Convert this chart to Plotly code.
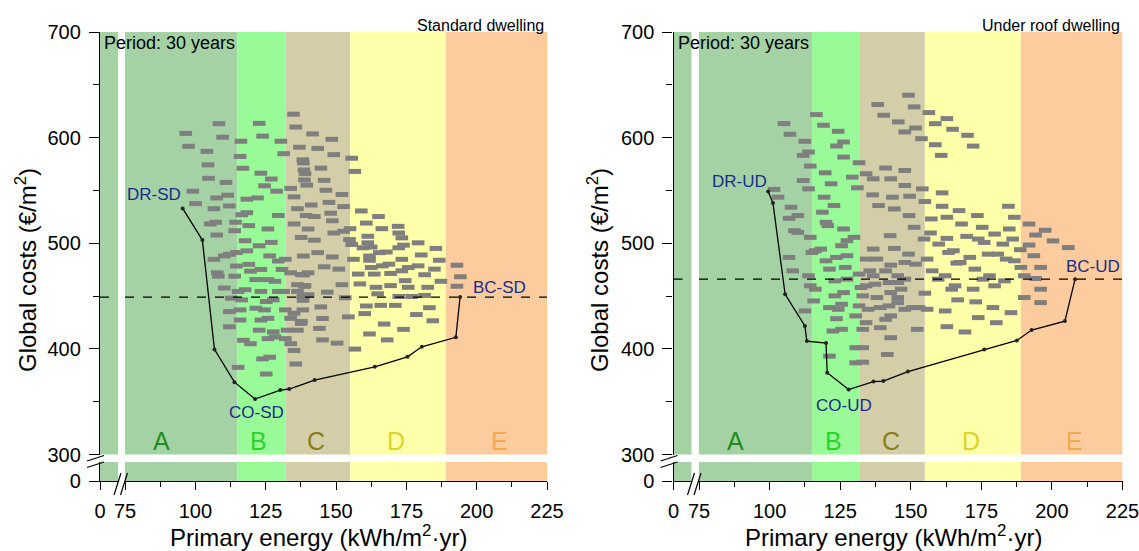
import plotly.graph_objects as go

W, H = 1139, 551
FONT = "Liberation Sans, Arial, sans-serif"

# ---------------- data ----------------
class_edges = [75, 115, 132, 155, 189, 225]
class_names = ["A", "B", "C", "D", "E"]
class_name_x = [88, 122.5, 143, 171.5, 208]
class_name_y = 313
class_fill = ["#A5D2A5", "#98FB98", "#D3CEA8", "#FFFFAA", "#FDCC9E"]
class_text = ["#1E8C1E", "#2BD42B", "#857F1C", "#D6D62C", "#F4A85A"]

x_ticks = [75, 100, 125, 150, 175, 200, 225]
x_minor = [87.5, 112.5, 137.5, 162.5, 187.5, 212.5]
y_ticks = [300, 400, 500, 600, 700]
y_minor = [350, 450, 550, 650]

# Standard dwelling: all solutions (primary energy, global cost)
sd_points = [
    (108.4, 613.2), (122.7, 613.5), (134.9, 622.2), (96.6, 604), (109.7, 600.4), (123.9, 601.4), (135.7, 610),
    (97.6, 591.8), (116.2, 596.6), (130.4, 596.6), (137.0, 590.9), (104.1, 587), (115.9, 582.2), (131.4, 584.8),
    (138.2, 579), (104.5, 574.2), (116.9, 571), (123.3, 566.3), (138.6, 569.4), (104.7, 561.5), (110.9, 557.6),
    (124.6, 554.4), (127.0, 560.8), (133.9, 551.9), (138.8, 559.9), (99.1, 549.3), (111.5, 545.5), (107.6, 542.9),
    (128.9, 549.3), (135.1, 543.9), (100.1, 537.5), (118.3, 541.7), (122.1, 542.9), (136.3, 532.7), (106.6, 532.7),
    (112.1, 535.3), (116.5, 527), (118.3, 528.9), (129.5, 526.3), (139.4, 526.3), (105.3, 518.3), (107.2, 519.9),
    (114.3, 519.9), (119.0, 516.7), (125.8, 513.5), (135.1, 518.3), (107.6, 507.8), (114.0, 511.9), (117.7, 502.4),
    (122.7, 497.6), (127.0, 500.8), (137.6, 505.5), (140.1, 513.5), (110.3, 488), (114.6, 491.2), (112.1, 489.6),
    (118.3, 492.8), (126.4, 488), (106.6, 484.8), (129.5, 483.2), (132.0, 484.8), (107.8, 472), (114.6, 478.4),
    (119.0, 480), (123.3, 475.2), (130.8, 475.2), (133.9, 472), (137.6, 470.4), (140.1, 472), (108.2, 468.8),
    (114.0, 468.8), (119.6, 473.6), (121.5, 465.6), (125.8, 465.6), (128.3, 464), (136.3, 460.8), (138.8, 459.2),
    (110.3, 457.6), (115.2, 454.4), (117.7, 456), (123.3, 454.4), (129.5, 454.4), (131.4, 454.4), (136.3, 454.4),
    (112.8, 448), (116.5, 446.4), (125.2, 444.8), (127.7, 446.4), (138.2, 449.6), (140.1, 451.2), (112.1, 435.3),
    (115.9, 436.9), (121.5, 438.5), (124.6, 436.9), (132.0, 436.9), (135.1, 433.7), (138.2, 436.9), (115.9, 427.3),
    (123.3, 427.3), (125.8, 428.9), (133.9, 428.9), (137.6, 424.1), (112.1, 420.9), (122.7, 417.7), (127.7, 416.1),
    (132.6, 417.7), (136.3, 417.7), (117.1, 408.1), (119.6, 404.9), (125.8, 409.7), (128.3, 411.3), (132.0, 409.7),
    (133.9, 404.9), (115.2, 382.5), (123.9, 390.5), (126.4, 392.1), (135.1, 398.5), (135.7, 385.7), (125.2, 376.2),
    (141.7, 603.5), (148.5, 598.4), (141.2, 536.2), (142.3, 525.3), (143.5, 589.8), (149.2, 583.9), (155.6, 580.5),
    (144.6, 571.1), (156.7, 568), (145.8, 559.6), (146.4, 550.2), (152.1, 546.2), (147.5, 538.7), (152.7, 534.7),
    (148.1, 528.4), (148.7, 521.3), (155.0, 513.8), (152.7, 511.3), (149.2, 509.7), (154.8, 503.5), (142.3, 502.9),
    (143.5, 491.1), (148.7, 487), (151.0, 475.5), (145.8, 477.7), (159.0, 530.6), (165.1, 525.3), (160.8, 519.1),
    (166.3, 513.8), (172.1, 516), (172.3, 509.7), (173.4, 505.1), (161.3, 506.6), (155.6, 498.8), (161.3, 500.4),
    (159.6, 495.7), (162.5, 496.4), (167.9, 491.7), (165.4, 491.1), (172.3, 495.7), (174.0, 498.2), (179.2, 500.4),
    (185.5, 495.1), (161.9, 487.9), (180.3, 488.9), (173.4, 484.8), (156.2, 484.8), (161.9, 483.9), (166.5, 478.6),
    (168.8, 480.2), (162.5, 477), (175.7, 477), (186.7, 483.9), (179.2, 478.6), (185.0, 475.5), (157.9, 470.8),
    (163.6, 470.8), (169.4, 471.4), (173.4, 473.9), (181.5, 470.2), (187.3, 464), (152.1, 460.8), (158.5, 461.5),
    (164.2, 458.3), (169.4, 459.9), (174.6, 464.6), (175.7, 458.3), (182.6, 458.3), (164.8, 452.1), (146.9, 453.7),
    (153.3, 448.4), (172.3, 449.6), (176.9, 449.6), (181.5, 450.6), (193.0, 479.2), (194.2, 468.3), (193.0, 459.3),
    (144.6, 439.7), (160.8, 440.6), (165.9, 441.2), (171.1, 441.2), (183.2, 439), (145.2, 428.8), (154.4, 430.3),
    (160.2, 433.4), (178.6, 432.5), (184.4, 426.6), (144.1, 419.4), (167.1, 423.5), (174.0, 418.5), (145.2, 408.5),
    (150.4, 405.4), (161.9, 414.1), (168.2, 408.5), (156.7, 399.8), (138.4, 576), (139.0, 565.8), (139.6, 555),
    (138.4, 487.9), (138.4, 470), (139.0, 460), (138.3, 446), (137.7, 426),
]
sd_front_x = [95.5, 102.5, 106.8, 113.9, 121.2, 130.2, 133.4, 142.4, 163.8, 175.4, 180.5, 192.6, 194.1]
sd_front_y = [533, 503, 399.5, 368.5, 352.5, 361, 362, 370.5, 383, 392.5, 402, 411, 449]
sd_bc_cost = 449
sd_labels = [("DR-SD", 85.4, 546), ("CO-SD", 121.8, 340), ("BC-SD", 208, 458)]

# Under roof dwelling
ud_points = [
    (105.1, 613.3), (116.6, 621.8), (119.1, 611.7), (124.3, 606), (138.3, 631.3), (140.4, 621.2), (145.6, 614.9),
    (147.9, 605.4), (107.2, 603.2), (112.5, 596.5), (113.8, 586.4), (111.9, 583.2), (123.7, 592.1), (126.2, 595.9),
    (126.2, 581.6), (131.7, 576.2), (134.2, 565.8), (141.1, 571.2), (147.9, 568.9), (114.4, 573.1), (119.7, 566.7),
    (111.9, 559.4), (113.8, 551.5), (121.8, 556.3), (129.3, 562.6), (131.1, 552.5), (136.7, 561), (142.9, 561),
    (147.9, 554.7), (101.6, 551), (103.0, 543.6), (119.3, 543.6), (122.8, 535.7), (118.7, 529.4), (136.5, 545.8),
    (138.6, 535.7), (143.5, 543.6), (144.2, 532.5), (107.6, 534.1), (106.9, 523.6), (110.0, 526.2), (108.8, 511.9),
    (110.0, 510.3), (114.4, 505.6), (120.0, 519.8), (120.6, 516.7), (126.2, 513.5), (127.4, 502.4), (129.9, 505.6),
    (142.7, 507.2), (144.2, 495.1), (136.7, 494.5), (115.0, 491.3), (118.1, 494.5), (116.2, 492.9), (125.5, 497.7),
    (106.9, 486.6), (120.0, 483.4), (123.7, 486.6), (127.4, 488.2), (134.2, 485), (138.0, 485), (142.9, 479.3),
    (147.9, 481.8), (108.2, 473.9), (113.8, 469.2), (121.2, 475.5), (126.8, 477.1), (131.7, 470.8), (135.5, 473.9),
    (136.7, 469.2), (141.1, 473.9), (145.4, 469.2), (114.4, 459.7), (116.2, 456.5), (123.1, 464.4), (127.4, 466),
    (132.4, 458.1), (134.2, 459.7), (137.3, 461.2), (142.3, 462.8), (145.4, 462.8), (147.9, 466), (115.6, 445.4),
    (123.1, 450.2), (126.2, 453.3), (133.0, 450.2), (138.0, 448.6), (142.9, 453.3), (145.4, 448.6), (146.6, 456.5),
    (121.2, 439.1), (124.3, 437.5), (125.5, 442.2), (131.7, 440.7), (134.9, 437.5), (139.2, 439.1), (142.3, 440.7),
    (145.4, 443.8), (112.5, 435.9), (123.7, 428.6), (130.5, 431.2), (134.2, 424.8), (141.1, 428), (142.9, 431.2),
    (147.9, 437.5), (122.4, 416.9), (125.5, 418.5), (133.0, 418.5), (139.2, 420.1), (142.9, 410.6), (121.2, 393.1),
    (130.5, 401.1), (133.0, 401.1), (141.7, 394.7), (130.5, 386.8), (133.0, 387.4),
    (149.2, 640.2), (151.2, 629.1), (156.4, 623.7), (158.7, 613.2), (162.8, 618), (164.8, 607.9), (151.7, 609.1),
    (153.8, 599), (158.7, 593.3), (160.8, 583.2), (170.1, 602.2), (172.1, 592), (149.6, 544.5), (154.1, 551.5),
    (155.0, 539.5), (161.1, 547.7), (161.1, 535), (167.1, 530.9), (168.0, 518.2), (162.8, 524.6), (173.6, 526.2),
    (175.3, 515.1), (184.6, 535), (186.7, 524.6), (184.9, 513.5), (191.9, 518.2), (194.2, 507.8), (149.4, 526.2),
    (151.2, 515.1), (157.3, 523), (157.0, 509.7), (154.7, 504), (162.8, 504.6), (159.9, 499.2), (169.8, 506.5),
    (173.9, 504), (176.0, 500.8), (179.7, 508.7), (182.6, 499.2), (186.1, 504), (165.1, 492.9), (163.4, 491.3),
    (170.9, 486.6), (167.5, 481.8), (166.3, 481.2), (177.4, 489.7), (180.8, 489.7), (183.8, 485), (188.8, 493.9),
    (191.9, 498.3), (186.7, 483.4), (189.0, 477.1), (193.6, 488.2), (149.2, 489.7), (151.7, 480.2), (155.8, 485),
    (157.6, 473.9), (162.2, 469.2), (159.7, 466), (172.7, 475.5), (175.6, 466), (177.9, 469.2), (183.2, 464.4),
    (190.2, 469.2), (196.0, 477.1), (165.7, 459.7), (164.5, 456.5), (172.1, 456.5), (179.7, 459.7), (190.2, 448.6),
    (194.2, 466.6), (155.0, 452.7), (150.6, 439.1), (152.9, 439.1), (155.8, 437.5), (166.6, 446.4), (173.0, 444.5),
    (179.1, 439.1), (196.0, 456.5), (196.0, 443.8), (162.2, 435.9), (173.9, 429.6), (185.5, 434.3), (180.3, 424.8),
    (152.3, 418.5), (162.8, 421), (169.2, 416), (197.6, 512.3), (200.4, 502.2), (205.8, 495.9),
]
ud_front_x = [99.5, 101.2, 105.5, 112.5, 113.2, 120.0, 120.4, 128.0, 136.8, 140.3, 149.0, 176.0, 187.6, 192.8, 204.6, 208.2]
ud_front_y = [549, 538, 451.7, 421.7, 407.4, 405.5, 377.5, 361.5, 369, 369.5, 378.5, 399.5, 408, 417.8, 426.3, 466]
ud_bc_cost = 466
ud_labels = [("DR-UD", 89.4, 558), ("CO-UD", 126.4, 346), ("BC-UD", 214.6, 478)]

panel_titles = ["Standard dwelling", "Under roof dwelling"]
period_text = "Period: 30 years"

# ---------------- geometry (pixels) ----------------
Y_TOP, Y_MAIN_BOT, Y_STUB_TOP, Y_AXIS = 32, 454.5, 462, 481
panels = [
    dict(axis=100, stub_end=118, main0=125, main1=547, ytitle_x=26,
         pts=sd_points, fx=sd_front_x, fy=sd_front_y, bc=sd_bc_cost, labels=sd_labels),
    dict(axis=673.5, stub_end=691.5, main0=699, main1=1122.5, ytitle_x=598,
         pts=ud_points, fx=ud_front_x, fy=ud_front_y, bc=ud_bc_cost, labels=ud_labels),
]


def fx(px):
    return px / W


def fy(py):
    return 1 - py / H


fig = go.Figure()
layout = {}
shapes = []
annotations = []


def akey(kind, n):
    return f"{kind}axis" if n == 1 else f"{kind}axis{n}"


def aref(kind, n):
    return kind if n == 1 else f"{kind}{n}"


hidden = dict(visible=False, showgrid=False, zeroline=False, fixedrange=True, automargin=False)
tickfont = dict(family=FONT, size=20, color="black")
line_axis = dict(showline=True, linecolor="black", linewidth=1.3, showgrid=False, zeroline=False,
                 ticks="outside", tickwidth=1.3, tickcolor="black", tickfont=tickfont,
                 ticklabelstandoff=4, ticklabeloverflow="allow", fixedrange=True,
                 automargin=False, tickmode="array")

for i, p in enumerate(panels):
    n = 4 * i + 1
    m, s, b, c = n, n + 1, n + 2, n + 3
    dom_main_x = [fx(p["main0"]), fx(p["main1"])]
    dom_stub_x = [fx(p["axis"]), fx(p["stub_end"])]
    dom_main_y = [fy(Y_MAIN_BOT), fy(Y_TOP)]
    dom_stub_y = [fy(Y_AXIS), fy(Y_STUB_TOP)]

    # main
    layout[akey("x", m)] = dict(hidden, domain=dom_main_x, range=[75, 225], anchor=aref("y", m))
    layout[akey("y", m)] = dict(hidden, domain=dom_main_y, range=[300, 700], anchor=aref("x", m))
    # left stub (carries y ticks 300-700)
    layout[akey("x", s)] = dict(hidden, domain=dom_stub_x, range=[0, 1], anchor=aref("y", s))
    layout[akey("y", s)] = dict(
        line_axis, domain=dom_main_y, range=[300, 700], anchor=aref("x", s), side="left",
        ticklen=10, tickvals=y_ticks, ticktext=[str(v) for v in y_ticks],
        minor=dict(tickmode="array", tickvals=y_minor, ticks="outside", ticklen=6,
                   tickwidth=1.3, tickcolor="black", showgrid=False),
    )
    # bottom stub (carries x ticks 75-225)
    layout[akey("x", b)] = dict(
        line_axis, domain=dom_main_x, range=[75, 225], anchor=aref("y", b), side="bottom",
        ticklen=8, tickvals=x_ticks, ticktext=[str(v) for v in x_ticks],
        minor=dict(tickmode="array", tickvals=x_minor, ticks="outside", ticklen=5,
                   tickwidth=1.3, tickcolor="black", showgrid=False),
    )
    layout[akey("y", b)] = dict(hidden, domain=dom_stub_y, range=[0, 1], anchor=aref("x", b))
    # corner (0 / 0)
    layout[akey("x", c)] = dict(
        line_axis, domain=dom_stub_x, range=[0, 1], anchor=aref("y", c), side="bottom",
        ticklen=8, tickvals=[0], ticktext=["0"],
    )
    layout[akey("y", c)] = dict(
        line_axis, domain=dom_stub_y, range=[0, 1], anchor=aref("x", c), side="left",
        ticklen=10, tickvals=[0], ticktext=["0"],
    )

    # make sure every sub-area exists as a subplot
    for ax in (s, b, c):
        fig.add_trace(go.Scatter(x=[], y=[], xaxis=aref("x", ax), yaxis=aref("y", ax),
                                 showlegend=False, hoverinfo="skip"))

    # background class bands
    for k in range(5):
        shapes.append(dict(type="rect", xref=aref("x", m), yref=f"{aref('y', m)} domain",
                           x0=class_edges[k], x1=class_edges[k + 1], y0=0, y1=1,
                           fillcolor=class_fill[k], line=dict(width=0), layer="below"))
        shapes.append(dict(type="rect", xref=aref("x", b), yref=f"{aref('y', b)} domain",
                           x0=class_edges[k], x1=class_edges[k + 1], y0=0, y1=1,
                           fillcolor=class_fill[k], line=dict(width=0), layer="below"))
        annotations.append(dict(text=class_names[k], xref=aref("x", m), yref=aref("y", m),
                                x=class_name_x[k], y=class_name_y, showarrow=False,
                                xanchor="center", yanchor="middle",
                                font=dict(family=FONT, size=25, color=class_text[k])))
    for ax in (s, c):
        shapes.append(dict(type="rect", xref=f"{aref('x', ax)} domain", yref=f"{aref('y', ax)} domain",
                           x0=0, x1=1, y0=0, y1=1, fillcolor=class_fill[0],
                           line=dict(width=0), layer="below"))

    # scatter of all solutions
    px_, py_ = zip(*p["pts"])
    fig.add_trace(go.Scatter(
        x=list(px_), y=list(py_), mode="markers", xaxis=aref("x", m), yaxis=aref("y", m),
        marker=dict(symbol="line-ew", size=9, color="#7F7F7F",
                    line=dict(color="#7F7F7F", width=5)),
        showlegend=False, hoverinfo="skip", cliponaxis=False,
    ))
    # Pareto front
    fig.add_trace(go.Scatter(
        x=p["fx"], y=p["fy"], mode="lines+markers", xaxis=aref("x", m), yaxis=aref("y", m),
        line=dict(color="black", width=1.3),
        marker=dict(symbol="circle", size=4, color="#222222"),
        showlegend=False, hoverinfo="skip",
    ))
    # dashed base-case cost line (across stub and main area)
    for ax in (m, s):
        shapes.append(dict(type="line", xref=f"{aref('x', ax)} domain", yref=aref("y", ax),
                           x0=0, x1=1, y0=p["bc"], y1=p["bc"],
                           line=dict(color="black", width=1.2, dash="dash")))

    # point labels
    for txt, lx, ly in p["labels"]:
        annotations.append(dict(text=txt, xref=aref("x", m), yref=aref("y", m), x=lx, y=ly,
                                showarrow=False, xanchor="center", yanchor="middle",
                                font=dict(family=FONT, size=17, color="#1C2A8C")))

    # texts
    annotations.append(dict(text=period_text, xref="paper", yref="paper",
                            x=fx(p["axis"] + 2), y=fy(43), xanchor="left", yanchor="middle",
                            showarrow=False, font=dict(family=FONT, size=18, color="black")))
    annotations.append(dict(text=panel_titles[i], xref="paper", yref="paper",
                            x=fx(p["main1"] - 1), y=fy(25), xanchor="right", yanchor="middle",
                            showarrow=False, font=dict(family=FONT, size=16, color="black")))
    annotations.append(dict(text="Primary energy (kWh/m<sup>2</sup>·yr)", xref="paper", yref="paper",
                            x=fx((p["axis"] + p["main1"]) / 2 - 5), y=fy(536), xanchor="center",
                            yanchor="middle", showarrow=False,
                            font=dict(family=FONT, size=24, color="black")))
    annotations.append(dict(text="Global costs (€/m<sup>2</sup>)", xref="paper", yref="paper",
                            x=fx(p["ytitle_x"]), y=fy(270), xanchor="center", yanchor="middle",
                            textangle=-90, showarrow=False,
                            font=dict(family=FONT, size=24, color="black")))

    # axis break marks
    a = p["axis"]
    for dy in (0, 6.5):
        shapes.append(dict(type="line", xref="paper", yref="paper",
                           x0=fx(a - 13), y0=fy(461 + dy), x1=fx(a + 4), y1=fy(455.5 + dy),
                           line=dict(color="black", width=1.2)))
    for dx in (0, 6.5):
        shapes.append(dict(type="line", xref="paper", yref="paper",
                           x0=fx(a + 14 + dx), y0=fy(495), x1=fx(a + 21 + dx), y1=fy(473),
                           line=dict(color="black", width=1.2)))

fig.update_layout(
    template="none",
    width=W, height=H, autosize=False,
    margin=dict(l=0, r=0, t=0, b=0, pad=0, autoexpand=False),
    paper_bgcolor="white", plot_bgcolor="rgba(0,0,0,0)",
    shapes=shapes, annotations=annotations, showlegend=False,
    font=dict(family=FONT, color="black"),
    **layout,
)

fig.write_html("out.html")
